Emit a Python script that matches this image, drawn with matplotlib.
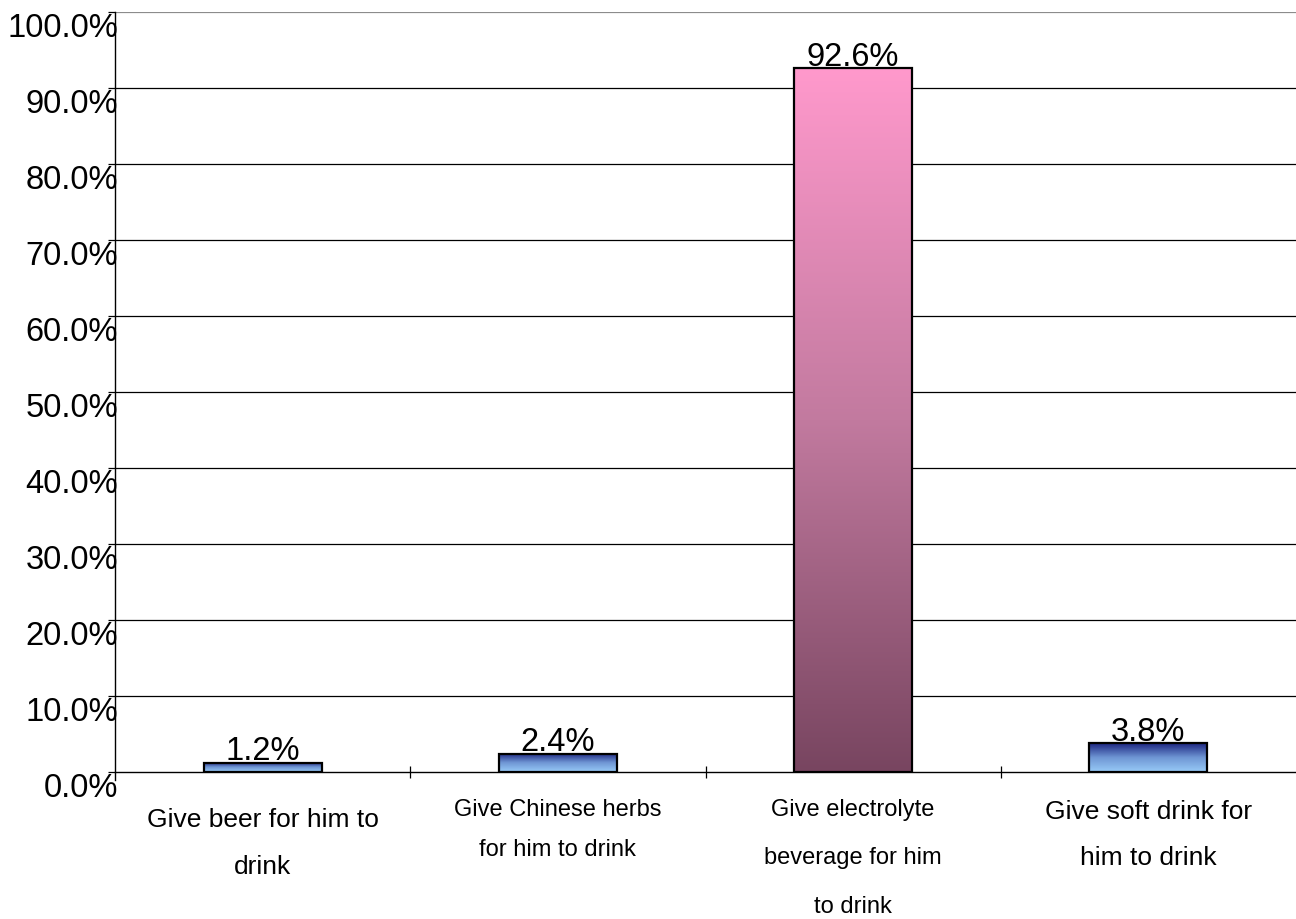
import numpy as np
import matplotlib
matplotlib.use("Agg")
import matplotlib.pyplot as plt
from matplotlib.colors import LinearSegmentedColormap
from matplotlib.patches import Rectangle
from matplotlib.transforms import ScaledTranslation

plt.rcParams["font.family"] = ["Liberation Sans", "DejaVu Sans"]

categories = [
    ["Give beer for him to", "drink"],
    ["Give Chinese herbs", "for him to drink"],
    ["Give electrolyte", "beverage for him", "to drink"],
    ["Give soft drink for", "him to drink"],
]
values = [1.2, 2.4, 92.6, 3.8]
value_labels = ["1.2%", "2.4%", "92.6%", "3.8%"]
yticks = [0, 10, 20, 30, 40, 50, 60, 70, 80, 90, 100]
ytick_labels = ["0.0%", "10.0%", "20.0%", "30.0%", "40.0%", "50.0%",
                "60.0%", "70.0%", "80.0%", "90.0%", "100.0%"]

BLUE = LinearSegmentedColormap.from_list("blue", ["#98cbf8", "#6f96d4", "#1c2580"])
PINK = LinearSegmentedColormap.from_list("pink", ["#784560", "#c27a9f", "#ff99cc"])
bar_cmaps = [BLUE, BLUE, PINK, BLUE]

BAR_W = 0.4
BIG = 23.5

fig = plt.figure(figsize=(12.96, 9.2), dpi=100)
ax = fig.add_axes([115 / 1296, 1 - 773 / 920, 1 - 115 / 1296, 760 / 920])
ax.set_xlim(-0.5, len(values) - 0.5)
ax.set_ylim(0, 100)

# gridlines (100% line is lighter grey)
for t in yticks[1:-1]:
    ax.axhline(t, color="black", linewidth=0.9, zorder=1)
ax.axhline(100, color="#8c8c8c", linewidth=1.6, zorder=1)

gradient = np.linspace(0, 1, 256).reshape(-1, 1)
for i, (v, cmap) in enumerate(zip(values, bar_cmaps)):
    x0, x1 = i - BAR_W / 2, i + BAR_W / 2
    im = ax.imshow(gradient, cmap=cmap, origin="lower", aspect="auto",
                   extent=(x0, x1, 0, v), zorder=2, interpolation="bilinear")
    rect = Rectangle((x0, 0), BAR_W, v, facecolor="none", edgecolor="black",
                     linewidth=1.6, zorder=3)
    ax.add_patch(rect)
    im.set_clip_path(rect)
    ax.annotate(value_labels[i], (i, v), xytext=(0, 2.5),
                textcoords="offset points", ha="center", va="baseline",
                fontsize=BIG, zorder=4)

for s in ("top", "right"):
    ax.spines[s].set_visible(False)
ax.spines["left"].set_linewidth(1.0)
ax.spines["bottom"].set_linewidth(1.0)
ax.spines["left"].set_bounds(-1.0, 100)

ax.set_yticks(yticks)
ax.set_yticklabels(ytick_labels, fontsize=BIG)
ax.tick_params(axis="y", length=5, width=0.9, pad=-7)
shift = ScaledTranslation(0, -12 / 100, fig.dpi_scale_trans)
for lab in ax.get_yticklabels():
    lab.set_transform(lab.get_transform() + shift)

ax.set_xticks([0.5, 1.5, 2.5])
ax.set_xticklabels([])
ax.tick_params(axis="x", length=8, width=0.9, direction="inout")

# category labels, one text per line (middle two are squeezed smaller)
label_sizes = [19, 17, 17, 19]
top_offsets = [47, 37, 37, 39]
line_gaps = [47, 40, 48.5, 46]
for i, lines in enumerate(categories):
    for j, line in enumerate(lines):
        dy = -(top_offsets[i] + j * line_gaps[i]) / 100
        tr = ax.get_xaxis_transform() + ScaledTranslation(0, dy, fig.dpi_scale_trans)
        ax.text(i, 0, line, transform=tr, ha="center", va="center",
                fontsize=label_sizes[i], clip_on=False)

fig.savefig("out.png", dpi=100)
